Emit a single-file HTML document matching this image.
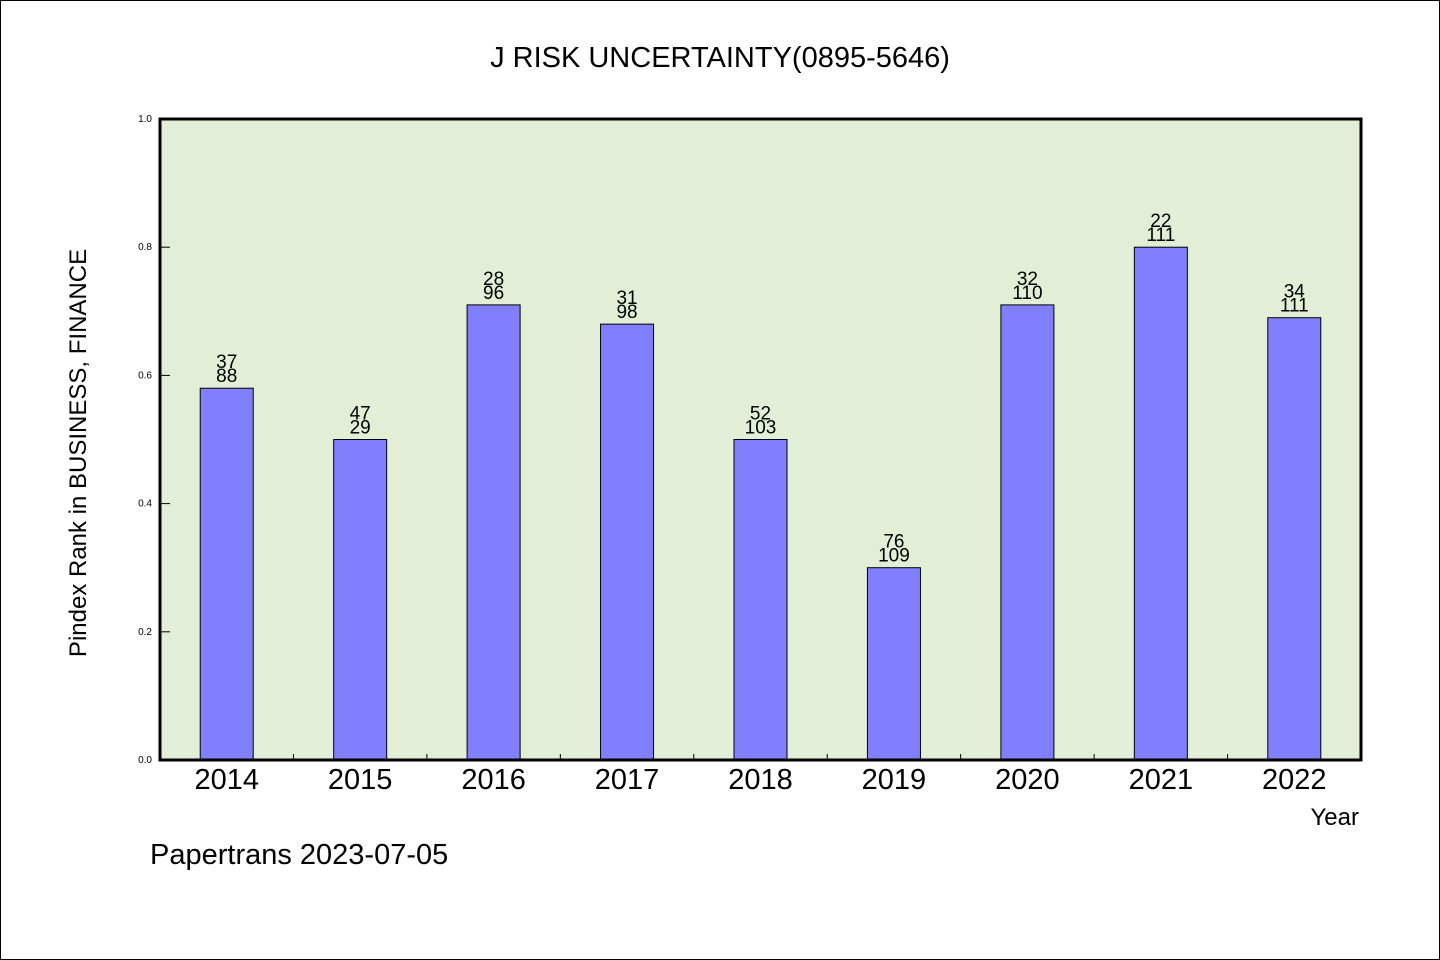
<!DOCTYPE html>
<html><head><meta charset="utf-8"><style>
html,body{margin:0;padding:0;background:#fff;}
svg{display:block;}
text{font-family:"WenQuanYi Zen Hei","Liberation Sans",sans-serif;fill:#000;}
</style></head><body>
<svg id="chart" width="1440" height="960" xmlns="http://www.w3.org/2000/svg">
<rect x="0.5" y="0.5" width="1439" height="959" fill="#fff" stroke="#000" stroke-width="1"/>
<text x="720" y="67" font-size="29" text-anchor="middle">J RISK UNCERTAINTY(0895-5646)</text>
<rect x="160" y="119" width="1201" height="641" fill="#e2efd6"/>
<g id="bars"></g>
<g id="axes"></g>
<text x="86" y="453" font-size="24" text-anchor="middle" transform="rotate(-90 86 453)">Pindex Rank in BUSINESS, FINANCE</text>
<text x="1359" y="825" font-size="24" text-anchor="end">Year</text>
<text x="150" y="864" font-size="29">Papertrans 2023-07-05</text>
</svg>
<script>
const categories=["2014","2015","2016","2017","2018","2019","2020","2021","2022"];
const values=[0.58,0.5,0.71,0.68,0.5,0.3,0.71,0.8,0.69];
const topLabels=["37","47","28","31","52","76","32","22","34"];
const bottomLabels=["88","29","96","98","103","109","110","111","111"];
const yTicks=[0,0.2,0.4,0.6,0.8,1.0];
const NS="http://www.w3.org/2000/svg";
const X0=160,X1=1361,Y0=760,Y1=119;
const band=(X1-X0)/categories.length;
const xc=i=>X0+(i+0.5)*band;
const y=v=>Y0-(v/1)*(Y0-Y1);
function mk(tag,attrs,parent,txt){const e=document.createElementNS(NS,tag);for(const k in attrs)e.setAttribute(k,attrs[k]);if(txt!==undefined)e.textContent=txt;parent.appendChild(e);return e;}
const bars=document.getElementById('bars'),axes=document.getElementById('axes');
const bw=53;
categories.forEach((c,i)=>{
  const r=mk('rect',{x:xc(i)-bw/2,y:y(values[i]),width:bw,height:Y0-y(values[i]),fill:'#8080ff',stroke:'#000','stroke-width':1},bars);
  
  
  const t1=mk('text',{x:xc(i),y:y(values[i])-20,'font-size':19,'text-anchor':'middle'},bars,topLabels[i]);
  
  
  const t2=mk('text',{x:xc(i),y:y(values[i])-6,'font-size':19,'text-anchor':'middle'},bars,bottomLabels[i]);
  
  
  const xl=mk('text',{x:xc(i),y:789,'font-size':29,'text-anchor':'middle'},axes,c);
  
  
  if(i>0){const tk=mk('line',{x1:X0+i*band,x2:X0+i*band,y1:Y0,y2:Y0-6,stroke:'#000','stroke-width':1},axes);
  
  }
});
yTicks.forEach(v=>{
  const l=mk('text',{x:152,y:y(v)+3,'font-size':10,'text-anchor':'end'},axes,v.toFixed(1));
  
  
  const tk=mk('line',{x1:X0,x2:X0+10,y1:y(v),y2:y(v),stroke:'#000','stroke-width':1},axes);
  
  
});
const fr=mk('rect',{x:X0,y:Y1,width:X1-X0,height:Y0-Y1,fill:'none',stroke:'#000','stroke-width':3},axes);


</script>
</body></html>
